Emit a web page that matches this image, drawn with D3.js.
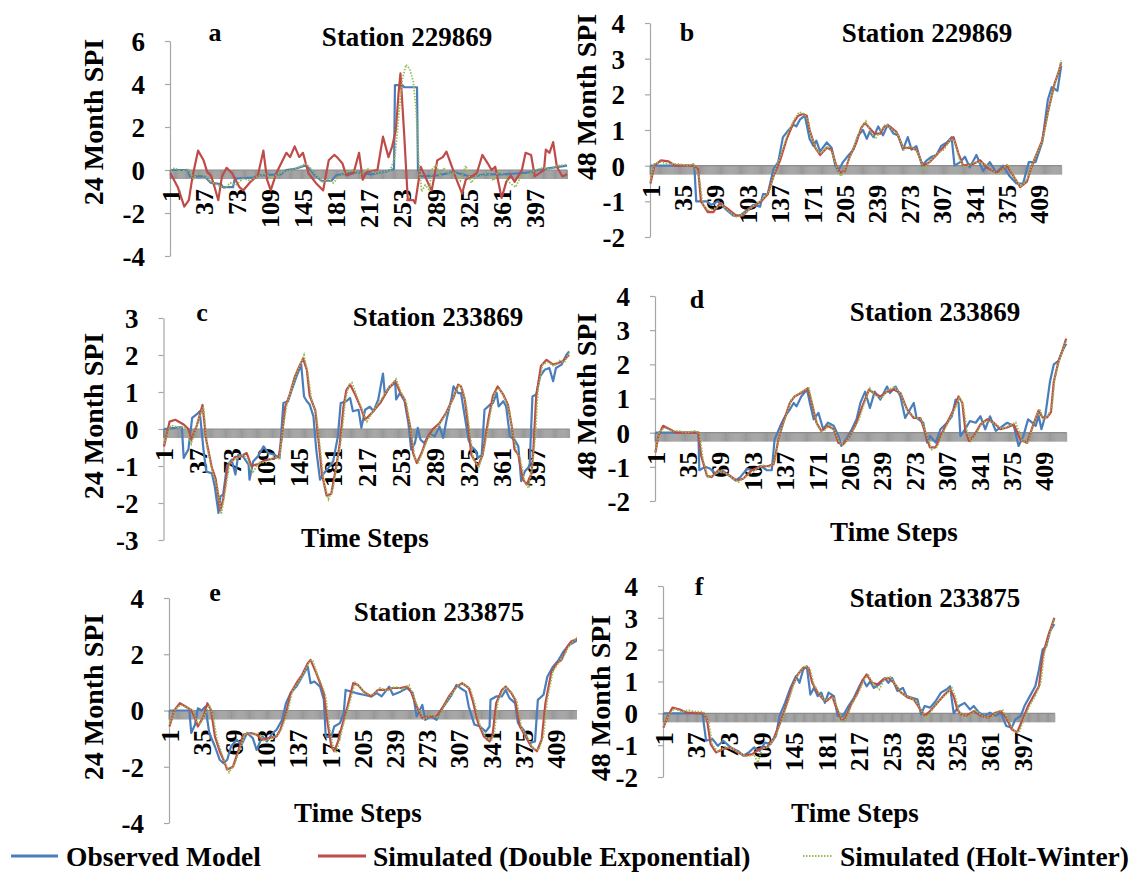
<!DOCTYPE html>
<html><head><meta charset="utf-8">
<script src="https://cdn.jsdelivr.net/npm/d3@7"></script>
<style>
body{margin:0;background:#fff}
text{font-family:"Liberation Serif","Times New Roman",serif;font-weight:bold;fill:#000}
</style></head>
<body><svg id="chart" width="1139" height="875"></svg>
<script>
// ---------------- DATA ----------------
const N = 432; // time steps per series
const seriesNames = ["Observed Model", "Simulated (Double Exponential)", "Simulated (Holt-Winter)"];
const titles = {a:"Station 229869", b:"Station 229869", c:"Station 233869", d:"Station 233869", e:"Station 233875", f:"Station 233875"};
const yTitles = {a:"24 Month SPI", b:"48 Month SPI", c:"24 Month SPI", d:"48 Month SPI", e:"24 Month SPI", f:"48 Month SPI"};
const yTicksA = [-4,-2,0,2,4,6];
const yTicksB = [-2,-1,0,1,2,3,4];
const yTicksC = [-3,-2,-1,0,1,2,3];
const yTicksD = [-2,-1,0,1,2,3,4];
const yTicksE = [-4,-2,0,2,4];
const yTicksF = [-2,-1,0,1,2,3,4];
const xLabels36 = [1,37,73,109,145,181,217,253,289,325,361,397];
const xLabels34 = [1,35,69,103,137,171,205,239,273,307,341,375,409];

// Panel a : Station 229869, 24 month SPI  ([time step, SPI])
const obsA = [[1,0],[20,0],[22,-0.3],[38,-0.3],[45,-0.6],[56,-0.65],[58,-0.8],[69,-0.8],[71,-0.4],[92,-0.35],[96,-0.25],[121,-0.2],[127,0],[136,0.05],[147,0.2],[150,0.15],[157,-0.2],[165,-0.5],[176,-0.5],[181,-0.25],[201,-0.1],[219,-0.2],[237,-0.05],[244,0.05],[245,3.95],[253,3.95],[255,3.85],[269,3.85],[270,0],[273,-0.3],[291,-0.25],[309,-0.1],[327,-0.3],[345,-0.2],[363,-0.2],[380,-0.15],[395,-0.1],[400,0],[415,0.1],[432,0.2]];
const dexpA = [[1,-0.15],[9,-0.8],[16,-1.7],[21,-1.4],[25,-0.3],[31,0.9],[37,0.45],[41,-0.1],[45,-0.25],[49,-0.8],[53,-1.4],[57,-0.3],[62,0.1],[68,-0.15],[76,-0.8],[80,-0.95],[88,-0.55],[96,-0.25],[102,0.9],[106,-0.45],[110,-0.95],[116,-0.15],[127,0.8],[131,0.6],[136,1.1],[141,0.6],[145,0.8],[151,-0.15],[159,-0.6],[167,-0.95],[173,0.45],[179,0.7],[182,0.6],[188,0.3],[192,-0.25],[200,-0.15],[206,0.8],[210,-0.45],[214,-0.1],[226,0],[232,1.55],[238,0.6],[242,1.1],[246,1.85],[249,3.6],[251,4.5],[255,1.7],[259,-1.4],[265,-1.4],[267,-1.55],[273,0.15],[281,-0.6],[285,-0.95],[291,0.45],[297,0.6],[301,0.85],[307,0.15],[312,-0.45],[318,-1.1],[322,-0.45],[328,-0.3],[334,-0.15],[340,0.7],[346,0.3],[350,0],[354,0.15],[361,-1.3],[366,-0.55],[371,-0.25],[375,-0.55],[383,0],[387,0.8],[393,0.7],[397,-0.3],[407,0],[409,0.95],[413,0.8],[417,1.3],[421,0.15],[427,-0.3],[432,-0.2]];
const hwA = [[1,0],[6,0.1],[12,-0.1],[20,0.05],[26,-0.4],[32,-0.1],[38,-0.3],[45,-0.55],[52,-0.7],[60,-0.85],[66,-0.6],[72,-0.7],[80,-0.4],[88,-0.5],[95,-0.3],[104,-0.2],[112,-0.35],[120,-0.15],[128,-0.05],[136,0.05],[142,0.15],[148,0.3],[154,0.05],[160,-0.3],[166,-0.55],[172,-0.45],[178,-0.6],[184,-0.3],[192,-0.1],[200,0],[208,-0.2],[216,0.05],[224,-0.15],[232,-0.1],[240,0],[245,0.6],[249,2.5],[253,4.2],[257,4.9],[261,4.7],[265,4.1],[268,2.8],[271,0.3],[274,-1.0],[278,-0.7],[282,-0.9],[286,0.1],[290,0.2],[294,-0.3],[298,0.1],[304,-0.2],[310,-0.1],[316,-0.5],[322,0.2],[328,-0.6],[334,-0.2],[340,-0.3],[346,-0.1],[352,-0.5],[358,0],[364,-0.3],[370,-0.6],[376,-0.8],[382,-0.3],[390,-0.2],[398,0],[406,0.1],[414,0.05],[422,0.2],[432,0.25]];

// Panel b : Station 229869, 48 month SPI
const obsB = [[1,0],[47,0],[49,-1.0],[60,-1.0],[65,-1.1],[72,-1.0],[81,-1.25],[88,-1.4],[95,-1.4],[102,-1.25],[109,-1.1],[116,-1.15],[119,-0.8],[124,-0.8],[130,-0.1],[135,0.1],[140,0.8],[146,1.0],[151,1.15],[154,1.1],[158,1.3],[163,1.4],[168,0.75],[172,0.55],[175,0.7],[179,0.4],[186,0.65],[191,0.5],[195,0],[198,-0.15],[203,0.1],[209,0.3],[214,0.45],[219,0.85],[224,1.0],[228,0.75],[231,0.95],[235,0.8],[240,1.1],[245,0.85],[250,1.15],[256,0.9],[261,0.85],[266,0.45],[271,0.8],[275,0.45],[280,0.55],[286,0],[291,0.15],[296,0.25],[301,0.3],[306,0.55],[312,0.65],[317,0.8],[320,0],[326,0.1],[331,0.25],[336,-0.05],[343,0.3],[350,-0.15],[357,0.1],[364,-0.2],[371,0],[378,-0.3],[385,-0.5],[392,-0.5],[398,0.1],[405,0.1],[412,0.65],[418,1.85],[422,2.2],[428,2.1],[432,2.8]];
const dexpB = [[1,-0.5],[5,0],[12,0.15],[20,0.12],[27,0],[46,0],[51,-0.1],[54,-1.0],[61,-1.3],[67,-1.3],[74,-1.05],[84,-1.25],[91,-1.4],[98,-1.4],[105,-1.2],[112,-1.1],[119,-0.95],[124,-0.8],[130,-0.3],[137,0.15],[144,0.75],[151,1.2],[156,1.4],[161,1.45],[165,1.4],[168,1.0],[174,0.5],[179,0.3],[186,0.5],[191,0.45],[196,0],[200,-0.2],[205,-0.15],[210,0.25],[217,0.65],[222,1.05],[226,1.2],[231,1.05],[236,0.9],[242,0.9],[247,1.12],[252,1.1],[259,0.95],[266,0.5],[273,0.5],[280,0.45],[287,0],[294,0.1],[301,0.3],[308,0.5],[315,0.7],[319,0.8],[324,0.35],[329,0],[340,0.05],[347,0.15],[354,-0.05],[364,-0.2],[375,0],[382,-0.3],[389,-0.6],[396,-0.45],[400,-0.1],[405,0.25],[412,0.7],[418,1.5],[425,2.3],[429,2.6],[432,2.9]];
const hwB = [[1,-0.45],[5,0.05],[12,0.1],[20,0.05],[30,0.05],[40,0],[46,0.05],[52,-0.3],[56,-1.1],[62,-1.25],[68,-1.2],[76,-1.1],[84,-1.3],[92,-1.45],[99,-1.35],[106,-1.2],[113,-1.05],[120,-0.9],[126,-0.7],[132,-0.1],[138,0.3],[145,0.9],[152,1.3],[157,1.5],[162,1.45],[166,1.3],[170,0.8],[176,0.4],[181,0.35],[187,0.55],[192,0.35],[197,-0.1],[201,-0.3],[206,-0.05],[212,0.35],[218,0.8],[223,1.1],[227,1.25],[232,0.95],[237,0.75],[243,1.0],[248,1.15],[253,1.05],[260,0.9],[267,0.45],[274,0.55],[281,0.4],[288,-0.1],[295,0.15],[302,0.35],[309,0.45],[316,0.75],[320,0.7],[325,0.2],[330,-0.05],[341,0.1],[348,0.1],[355,0],[365,-0.25],[376,0.05],[383,-0.35],[390,-0.6],[397,-0.35],[401,0],[406,0.3],[413,0.75],[419,1.6],[426,2.35],[430,2.7],[432,2.95]];

// Panel c : Station 233869, 24 month SPI
const obsC = [[1,0],[20,0.05],[22,-0.78],[27,-0.55],[31,0.3],[36,0.4],[39,0.48],[43,-0.55],[46,-1.15],[52,-1.2],[55,-1.55],[59,-2.27],[61,-1.82],[64,-1.77],[68,-1.0],[73,-0.83],[77,-1.23],[80,-0.7],[85,-0.74],[91,-0.96],[92,-1.37],[96,-0.87],[101,-0.74],[107,-0.47],[112,-0.65],[119,-0.7],[124,-0.78],[128,0.7],[133,0.75],[137,1.06],[142,1.42],[147,1.74],[150,0.88],[153,0.75],[156,0.66],[160,0.34],[163,-0.56],[167,-1.37],[170,-1.23],[176,-1.05],[181,-0.87],[186,-0.2],[189,0.7],[195,0.75],[199,0.84],[202,0.48],[208,0.52],[211,0.03],[215,0.52],[220,0.6],[224,0.48],[229,0.8],[234,1.5],[236,0.93],[241,1.15],[247,1.24],[248,0.8],[252,0.97],[257,0.75],[261,0.16],[264,-0.56],[268,-0.38],[271,0.03],[274,-0.29],[278,-0.38],[284,-0.11],[289,-0.2],[294,0.07],[298,-0.24],[302,0.3],[307,0.84],[309,1.15],[314,0.97],[317,0.97],[321,0.34],[325,-0.29],[328,-0.47],[332,-0.56],[335,-0.78],[339,-0.7],[342,0.52],[348,0.66],[351,0.7],[355,0.97],[357,0.61],[362,0.75],[365,0.61],[369,-0.2],[374,-0.29],[378,-0.47],[381,-1.41],[385,-1.14],[390,-1.0],[393,0.88],[397,0.93],[401,1.42],[406,1.6],[411,1.65],[415,1.29],[418,1.65],[424,1.74],[429,2.0],[432,2.1]];
const dexpC = [[1,-0.47],[7,0.2],[13,0.25],[22,0.12],[27,0],[30,-0.3],[36,0.1],[42,0.65],[46,-0.3],[52,-1.05],[56,-1.35],[61,-2.2],[64,-1.9],[69,-1.0],[77,-0.75],[82,-0.75],[89,-0.65],[94,-1.0],[101,-0.95],[108,-0.85],[117,-0.8],[123,-0.75],[126,-0.3],[130,0.6],[135,0.95],[140,1.4],[146,1.75],[149,1.9],[153,1.6],[156,0.9],[162,0.5],[165,-0.2],[169,-1.2],[174,-1.8],[179,-1.75],[185,-0.9],[188,-0.4],[192,0.6],[195,1.05],[199,1.2],[204,0.95],[210,0.6],[215,0.25],[222,0.43],[231,0.7],[239,1.05],[247,1.3],[252,1.0],[257,0.8],[263,0.05],[266,-0.65],[270,-0.92],[275,-0.65],[280,-0.3],[287,0],[294,0.15],[301,0.43],[309,0.85],[314,1.2],[317,1.15],[321,0.8],[325,0],[328,-0.7],[335,-1.0],[340,-0.7],[346,0.25],[351,0.9],[356,1.15],[362,0.93],[367,0.65],[371,0.07],[374,-0.56],[378,-0.7],[383,-1.37],[387,-1.5],[392,-1.2],[394,-0.55],[397,0.88],[402,1.7],[408,1.87],[415,1.74],[420,1.78],[425,1.83],[432,2.0]];
const hwC = [[1,-0.4],[8,0.1],[16,0.05],[24,0.05],[30,-0.4],[37,0.2],[43,0.6],[47,-0.5],[53,-1.2],[58,-1.6],[62,-2.3],[66,-1.7],[71,-0.9],[78,-0.8],[84,-0.7],[90,-0.8],[95,-1.2],[102,-0.9],[110,-0.9],[118,-0.75],[124,-0.8],[128,0.1],[132,0.7],[137,1.1],[142,1.5],[147,1.8],[150,2.0],[154,1.5],[158,0.8],[163,0.4],[167,-0.5],[171,-1.4],[176,-1.9],[181,-1.6],[186,-0.8],[190,-0.2],[194,0.8],[198,1.2],[201,1.25],[206,0.9],[212,0.5],[217,0.2],[224,0.5],[232,0.8],[240,1.1],[248,1.35],[254,0.95],[259,0.7],[264,-0.1],[268,-0.8],[272,-0.9],[277,-0.55],[282,-0.25],[289,-0.05],[296,0.2],[303,0.5],[310,0.9],[315,1.2],[319,1.05],[323,0.6],[327,-0.2],[330,-0.8],[336,-1.05],[342,-0.5],[348,0.4],[353,1.0],[358,1.1],[363,0.85],[368,0.55],[372,-0.1],[376,-0.6],[380,-0.8],[385,-1.45],[389,-1.6],[393,-1.0],[396,-0.2],[399,1.1],[404,1.75],[410,1.8],[416,1.7],[422,1.85],[427,1.8],[432,2.05]];

// Panel d : Station 233869, 48 month SPI
const obsD = [[1,0],[46,0],[47,-1.1],[53,-1.0],[58,-1.05],[64,-1.2],[71,-1.1],[78,-1.25],[85,-1.4],[90,-1.3],[97,-1.06],[104,-1.1],[111,-0.97],[118,-1.1],[123,-1.1],[126,-0.2],[132,0.2],[137,0.48],[142,0.68],[146,0.87],[149,0.77],[154,1.06],[160,1.26],[163,0.87],[167,0.39],[172,0.58],[177,0.1],[182,0.29],[188,0.2],[193,-0.1],[196,-0.39],[202,-0.15],[207,0.1],[212,0.39],[216,0.87],[221,1.2],[226,0.72],[231,1.2],[237,0.97],[244,1.35],[247,1.16],[253,1.35],[258,1.06],[263,0.43],[268,0.68],[272,0.87],[275,0.43],[282,0.29],[286,-0.29],[289,-0.1],[295,-0.29],[300,0.1],[307,0.29],[312,0.48],[316,0.97],[319,0.87],[321,-0.1],[326,0.1],[331,0.34],[337,0.29],[342,0.48],[347,0.1],[352,0.48],[358,0.05],[363,0.15],[370,0.29],[377,0.2],[382,-0.39],[387,-0.1],[392,0.39],[396,0.3],[400,0.2],[403,0.5],[406,0.1],[410,0.5],[415,1.5],[419,2.0],[424,2.1],[428,2.4],[432,2.6]];
const dexpD = [[1,-0.58],[4,-0.1],[9,0.2],[16,0.1],[23,0],[46,0],[49,-0.68],[55,-1.26],[60,-1.3],[67,-1.1],[76,-1.2],[86,-1.4],[93,-1.35],[102,-1.1],[111,-1.0],[120,-0.97],[125,-0.92],[130,-0.2],[135,0.29],[142,0.87],[147,1.06],[156,1.2],[161,1.3],[165,0.87],[170,0.29],[175,0.05],[182,0.2],[188,0.1],[193,-0.3],[198,-0.34],[205,-0.1],[212,0.29],[218,0.77],[225,1.26],[230,1.16],[237,1.06],[244,1.2],[251,1.26],[258,1.16],[265,0.68],[272,0.43],[279,0.43],[284,0],[289,-0.43],[295,-0.43],[300,-0.1],[307,0.29],[314,0.68],[319,1.06],[323,0.87],[326,0.1],[330,-0.24],[335,-0.1],[342,0.24],[349,0.39],[356,0.29],[363,0.1],[370,0.15],[377,0.24],[384,-0.2],[391,-0.3],[397,0.2],[403,0.65],[407,0.45],[412,0.45],[416,0.6],[419,1.5],[424,2.1],[428,2.4],[432,2.75]];
const hwD = [[1,-0.55],[5,0],[10,0.15],[18,0.05],[26,0.05],[34,0],[42,0.05],[47,0],[51,-0.8],[56,-1.3],[62,-1.25],[69,-1.1],[78,-1.25],[88,-1.45],[95,-1.3],[104,-1.15],[113,-0.95],[121,-1.0],[126,-0.85],[131,-0.1],[137,0.4],[143,0.95],[149,1.1],[157,1.25],[162,1.3],[166,0.8],[171,0.2],[177,0.0],[183,0.25],[189,0.05],[195,-0.35],[200,-0.3],[207,0.0],[214,0.35],[220,0.85],[226,1.3],[231,1.1],[238,1.0],[245,1.25],[252,1.35],[259,1.1],[266,0.6],[273,0.45],[280,0.4],[286,-0.1],[291,-0.5],[297,-0.4],[302,-0.05],[309,0.35],[316,0.75],[320,1.05],[324,0.8],[328,0.0],[332,-0.25],[337,-0.05],[344,0.3],[351,0.35],[358,0.25],[365,0.1],[372,0.2],[379,0.3],[386,-0.25],[392,-0.3],[398,0.3],[404,0.7],[408,0.4],[413,0.5],[417,0.75],[420,1.6],[425,2.15],[429,2.45],[432,2.7]];

// Panel e : Station 233875, 24 month SPI
const obsE = [[1,0],[22,0],[24,-0.8],[28,-0.5],[31,0.08],[35,0],[39,0.14],[43,-0.8],[49,-1.28],[54,-1.75],[58,-1.87],[62,-1.75],[66,-1.28],[72,-1.04],[77,-1.22],[83,-0.8],[89,-0.98],[93,-1.4],[99,-0.92],[104,-1.1],[110,-0.8],[114,-0.69],[120,-0.33],[124,0.26],[129,0.62],[135,0.85],[141,1.2],[147,1.56],[150,0.97],[154,1.03],[160,0.85],[164,0.38],[166,-0.92],[172,-0.92],[175,-0.57],[181,-0.45],[185,-0.1],[187,0.73],[193,0.67],[198,0.62],[206,0.56],[214,0.5],[220,0.62],[225,0.5],[233,0.85],[237,0.56],[245,0.67],[252,0.8],[258,0.62],[262,-0.21],[268,0.2],[271,-0.33],[277,-0.21],[283,-0.33],[289,0.08],[293,0.26],[298,0.5],[304,0.91],[308,0.8],[314,0.67],[317,0.14],[323,-0.5],[329,-0.57],[335,-0.75],[339,-0.57],[340,0.38],[346,0.5],[352,0.5],[356,0.73],[360,0.44],[366,0.26],[369,-0.45],[375,-0.69],[381,-1.16],[387,-1.1],[390,0.38],[396,0.56],[400,1.2],[406,1.56],[412,1.8],[417,2.1],[423,2.33],[432,2.5]];
const dexpE = [[1,-0.57],[6,0],[12,0.26],[18,0.14],[24,0.02],[28,-0.27],[31,-0.57],[37,-0.21],[41,0.26],[45,0],[49,-0.92],[54,-1.45],[58,-1.75],[62,-2.1],[68,-2.0],[74,-1.4],[79,-0.86],[87,-0.8],[93,-0.86],[99,-1.04],[106,-0.98],[114,-0.92],[118,-0.69],[124,-0.1],[129,0.62],[135,0.97],[141,1.27],[147,1.68],[150,1.8],[156,1.33],[160,0.97],[164,0.62],[168,-0.45],[172,-1.28],[175,-1.45],[179,-1.1],[183,-0.57],[189,0.14],[195,0.97],[200,0.91],[206,0.67],[214,0.5],[221,0.73],[229,0.73],[237,0.8],[245,0.8],[252,0.85],[256,0.67],[262,0.14],[268,-0.27],[275,-0.21],[283,-0.21],[289,0.08],[296,0.5],[304,0.85],[310,0.97],[317,0.8],[321,0.38],[327,-0.45],[333,-0.92],[339,-1.1],[342,-0.92],[346,0.26],[352,0.73],[356,0.85],[362,0.62],[366,0.38],[371,-0.57],[377,-0.92],[383,-1.28],[389,-1.45],[394,-1.04],[398,0.26],[404,1.33],[410,1.68],[415,1.8],[421,2.27],[425,2.45],[432,2.55]];
const hwE = [[1,-0.5],[7,0.05],[13,0.2],[20,0.1],[26,0],[30,-0.4],[33,-0.5],[39,-0.1],[43,0.2],[47,-0.2],[51,-1.0],[56,-1.5],[60,-1.9],[64,-2.2],[70,-1.9],[76,-1.3],[81,-0.8],[89,-0.85],[95,-0.8],[101,-1.1],[108,-1.0],[116,-0.85],[120,-0.6],[126,0.0],[131,0.7],[137,1.0],[143,1.35],[149,1.75],[152,1.8],[158,1.2],[162,0.9],[166,0.5],[170,-0.6],[174,-1.35],[177,-1.5],[181,-1.0],[185,-0.45],[191,0.25],[197,1.0],[202,0.85],[208,0.6],[216,0.55],[223,0.8],[231,0.7],[239,0.85],[247,0.75],[254,0.9],[258,0.6],[264,0.05],[270,-0.3],[277,-0.15],[285,-0.25],[291,0.15],[298,0.55],[306,0.9],[312,0.95],[319,0.75],[323,0.3],[329,-0.55],[335,-0.95],[341,-1.05],[344,-0.8],[348,0.35],[354,0.8],[358,0.8],[364,0.55],[368,0.3],[373,-0.65],[379,-0.95],[385,-1.35],[391,-1.4],[396,-0.9],[400,0.4],[406,1.4],[412,1.7],[417,1.9],[423,2.3],[427,2.45],[432,2.6]];

// Panel f : Station 233875, 48 month SPI
const obsF = [[1,0],[44,0],[48,-0.86],[55,-0.8],[61,-1.02],[67,-0.86],[75,-1.07],[83,-1.18],[89,-1.33],[95,-1.23],[101,-1.07],[107,-1.18],[113,-0.92],[119,-0.97],[125,-0.71],[129,-0.08],[135,0.33],[141,0.8],[147,1.17],[151,0.96],[155,1.37],[159,1.48],[163,0.59],[167,0.8],[171,0.54],[175,0.65],[179,0.33],[183,0.65],[189,0.54],[193,-0.08],[199,-0.08],[205,0.23],[211,0.49],[217,0.85],[221,1.06],[225,0.85],[229,1.0],[233,0.8],[239,0.91],[245,1.11],[249,0.96],[253,1.11],[259,0.7],[265,0.8],[269,0.54],[275,0.49],[281,0.44],[285,-0.03],[289,0.23],[295,0.18],[301,0.38],[307,0.65],[313,0.75],[317,0.85],[321,0],[327,0.23],[333,0.33],[339,0.12],[343,0.23],[349,0.02],[355,-0.08],[361,0.02],[367,-0.08],[373,0.02],[379,-0.4],[385,-0.45],[389,-0.19],[395,-0.08],[399,0.23],[405,0.54],[411,0.85],[415,1.37],[419,2.0],[423,2.1],[427,2.57],[432,2.8]];
const dexpF = [[1,-0.45],[5,-0.14],[11,0.18],[19,0.12],[27,0.02],[45,0],[49,-0.19],[53,-0.97],[59,-1.23],[67,-1.12],[75,-1.07],[83,-1.23],[91,-1.33],[99,-1.28],[107,-1.12],[115,-1.07],[123,-0.76],[131,-0.19],[137,0.33],[143,0.85],[149,1.22],[155,1.43],[161,1.43],[165,0.96],[171,0.65],[177,0.44],[181,0.39],[187,0.54],[191,0.23],[197,-0.19],[201,-0.19],[207,0.23],[215,0.65],[221,1.06],[225,1.22],[231,0.96],[237,0.91],[243,1.06],[249,1.11],[255,0.96],[263,0.65],[271,0.49],[277,0.44],[283,0.18],[289,-0.08],[295,0.07],[303,0.33],[311,0.59],[317,0.75],[321,0.54],[325,0.12],[329,-0.03],[335,-0.08],[343,0.07],[351,-0.08],[359,-0.14],[367,0.02],[373,0.07],[379,-0.14],[385,-0.5],[391,-0.6],[397,-0.19],[403,0.23],[409,0.54],[415,0.85],[419,1.79],[425,2.42],[432,3.0]];
const hwF = [[1,-0.4],[7,-0.05],[13,0.15],[21,0.05],[29,0.1],[37,0.05],[45,0.05],[51,-0.3],[55,-1.0],[61,-1.2],[69,-1.05],[77,-1.1],[85,-1.25],[93,-1.35],[101,-1.3],[105,-1.55],[110,-1.1],[117,-1.05],[125,-0.7],[133,-0.1],[139,0.4],[145,0.95],[151,1.3],[157,1.5],[163,1.35],[167,0.9],[173,0.6],[179,0.4],[183,0.45],[189,0.5],[193,0.15],[199,-0.25],[203,-0.15],[209,0.3],[217,0.7],[223,1.1],[227,1.2],[233,0.9],[239,0.75],[245,1.1],[251,1.15],[257,0.9],[265,0.6],[273,0.5],[279,0.4],[285,0.1],[291,-0.15],[297,0.1],[305,0.4],[313,0.6],[319,0.8],[323,0.5],[327,0.05],[331,-0.05],[337,-0.1],[345,0.1],[353,-0.1],[361,-0.15],[369,0.05],[375,0.1],[381,-0.2],[387,-0.55],[393,-0.6],[399,-0.15],[405,0.25],[411,0.55],[417,0.95],[421,1.9],[427,2.5],[432,2.95]];

// ---------------- LAYOUT (positions / styles only) ----------------
const colors = {obs:"#4a7ebb", dexp:"#be4b48", hw:"#98b954"};
const panels = [
 {id:"a", obs:obsA, dexp:dexpA, hw:hwA, yTicks:yTicksA, xLabels:xLabels36, ax:170, w:0.92, py0:256, py1:41, clip:571, letter:[215,41], title:[407,46], ytitle:[93,122], xtitle:null},
 {id:"b", obs:obsB, dexp:dexpB, hw:hwB, yTicks:yTicksB, xLabels:xLabels34, ax:650, w:0.953, py0:237, py1:23, clip:null, letter:[687,41], title:[927,42], ytitle:[586,97], xtitle:null},
 {id:"c", obs:obsC, dexp:dexpC, hw:hwC, yTicks:yTicksC, xLabels:xLabels36, ax:163.5, w:0.94, py0:540, py1:318, clip:571, letter:[202,321], title:[438,326], ytitle:[93,416], xtitle:[365,547]},
 {id:"d", obs:obsD, dexp:dexpD, hw:hwD, yTicks:yTicksD, xLabels:xLabels34, ax:655, w:0.953, py0:501, py1:296, clip:null, letter:[697,308], title:[935,321], ytitle:[586,396], xtitle:[894,541]},
 {id:"e", obs:obsE, dexp:dexpE, hw:hwE, yTicks:yTicksE, xLabels:xLabels34, ax:169, w:0.947, py0:823, py1:598, clip:577, letter:[215,601], title:[439,621], ytitle:[93,697], xtitle:[358,822]},
 {id:"f", obs:obsF, dexp:dexpF, hw:hwF, yTicks:yTicksF, xLabels:xLabels36, ax:663, w:0.907, py0:777, py1:586, clip:null, letter:[699,595], title:[935,607], ytitle:[600,698], xtitle:[855,822]}
];

const svg = d3.select("#chart");
svg.append("rect").attr("width",1139).attr("height",875).attr("fill","#fff");
const defs = svg.append("defs");

function drawPanel(p){
  const g = svg.append("g");
  const yt = p.yTicks;
  const x = d3.scaleLinear().domain([0.5, N + 0.5]).range([p.ax, p.ax + N * p.w]);
  const y = d3.scaleLinear().domain([yt[0], yt[yt.length-1]]).range([p.py0, p.py1]);

  // y axis
  const ya = g.append("g").attr("transform", `translate(${p.ax},0)`)
    .call(d3.axisLeft(y).tickValues(yt).tickSize(5).tickSizeOuter(0).tickPadding(20).tickFormat(d => String(d)));
  ya.selectAll("path,line").attr("stroke","#a6a6a6").attr("stroke-width",1.2);
  ya.selectAll("text").style("font-size","27px").attr("fill","#000").attr("dy","0.35em");

  // clip for content
  let cg = g.append("g");
  if (p.clip){
    defs.append("clipPath").attr("id","clip"+p.id).append("rect")
      .attr("x",0).attr("y",0).attr("width",p.clip).attr("height",875);
    cg.attr("clip-path",`url(#clip${p.id})`);
  }
  const y0 = y(0);
  // category tick band on the zero axis
  const bounds = d3.range(0, N + 1).map(k => k + 0.5);
  cg.append("g").selectAll("line").data(bounds).join("line")
    .attr("x1", d => x(d)).attr("x2", d => x(d))
    .attr("y1", y0).attr("y2", y0 + 9)
    .attr("stroke","#5e5e5e").attr("stroke-width",0.62);
  cg.append("line").attr("x1",x(0.5)).attr("x2",x(N+0.5)).attr("y1",y0).attr("y2",y0)
    .attr("stroke","#8c8c8c").attr("stroke-width",1.2);

  // x tick labels (rotated)
  cg.append("g").selectAll("text").data(p.xLabels).join("text")
    .attr("transform", d => `translate(${x(d)},${y0 + 19}) rotate(-90)`)
    .attr("text-anchor","end").attr("dy","0.35em")
    .style("font-size","26px").text(d => d);

  // series lines
  const line = d3.line().x(d => x(d[0])).y(d => y(d[1]));
  cg.append("path").datum(p.obs).attr("d", line).attr("fill","none")
    .attr("stroke", colors.obs).attr("stroke-width", 2.2).attr("stroke-linejoin","round");
  cg.append("path").datum(p.dexp).attr("d", line).attr("fill","none")
    .attr("stroke", colors.dexp).attr("stroke-width", 2.2).attr("stroke-linejoin","round");
  cg.append("path").datum(p.hw).attr("d", line).attr("fill","none")
    .attr("stroke", colors.hw).attr("stroke-width", 1.8).attr("stroke-dasharray","1.5,1.5");

  // texts
  g.append("text").attr("x",p.letter[0]).attr("y",p.letter[1]).attr("text-anchor","middle")
    .style("font-size","26px").text(p.id);
  g.append("text").attr("x",p.title[0]).attr("y",p.title[1]).attr("text-anchor","middle")
    .style("font-size","27px").text(titles[p.id]);
  g.append("text").attr("transform",`translate(${p.ytitle[0]},${p.ytitle[1]}) rotate(-90)`)
    .attr("text-anchor","middle").attr("dy","0.35em").style("font-size","28px").text(yTitles[p.id]);
  if (p.xtitle){
    g.append("text").attr("x",p.xtitle[0]).attr("y",p.xtitle[1]).attr("text-anchor","middle")
      .style("font-size","27px").text("Time Steps");
  }
}
panels.forEach(drawPanel);

// legend
const legendItems = [
  {name: seriesNames[0], color: colors.obs, dash: null, x1: 11, x2: 58, tx: 66},
  {name: seriesNames[1], color: colors.dexp, dash: null, x1: 318, x2: 366, tx: 373},
  {name: seriesNames[2], color: colors.hw, dash: "1.5,1.5", x1: 803, x2: 832, tx: 840}
];
const lg = svg.append("g");
legendItems.forEach(it => {
  lg.append("line").attr("x1",it.x1).attr("x2",it.x2).attr("y1",856).attr("y2",856)
    .attr("stroke",it.color).attr("stroke-width",it.dash?2:3).attr("stroke-dasharray",it.dash);
  lg.append("text").attr("x",it.tx).attr("y",866).style("font-size","27.5px").text(it.name);
});
</script>
</body></html>
